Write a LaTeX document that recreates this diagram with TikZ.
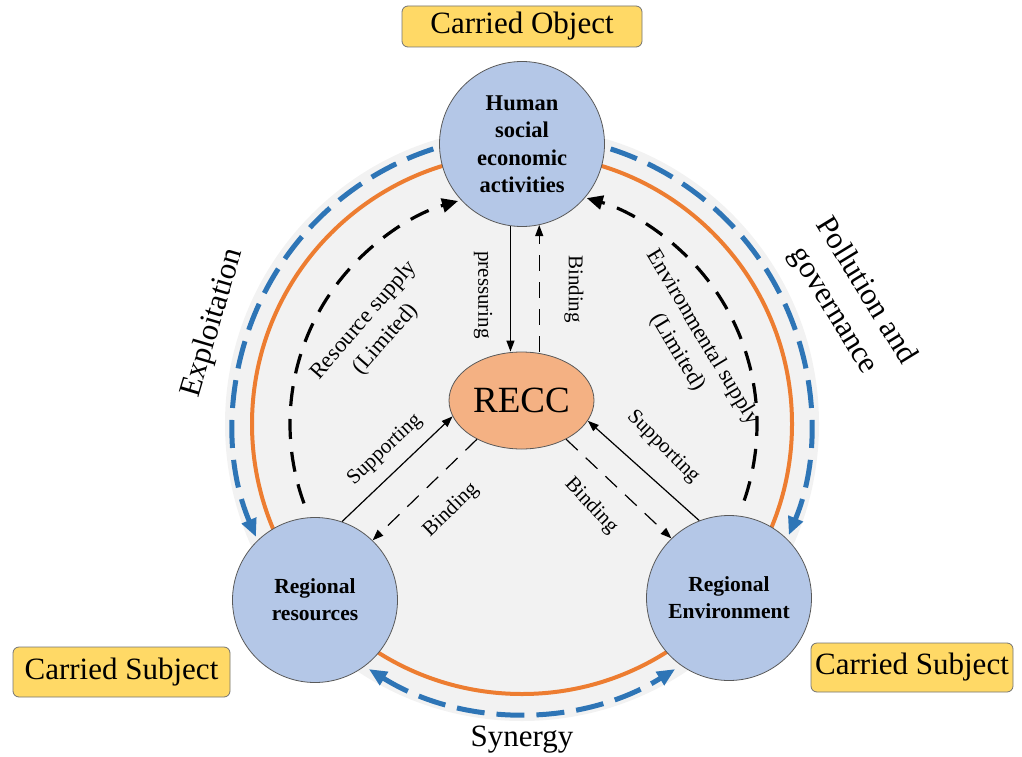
\documentclass[tikz,border=0pt]{standalone}
\usepackage{fontspec}
\setmainfont{Liberation Serif}
\usetikzlibrary{arrows.meta,shapes.geometric,calc}
\definecolor{grayfill}{HTML}{F2F2F2}
\definecolor{orng}{HTML}{ED7D31}
\definecolor{blu}{HTML}{2E75B6}
\definecolor{nodeblue}{HTML}{B4C7E7}
\definecolor{reccfill}{HTML}{F4B183}
\definecolor{boxy}{HTML}{FFD966}
\begin{document}
\begin{tikzpicture}[x=1pt,y=-1pt,
  hnode/.style={circle,draw=black!65,line width=0.8pt,fill=nodeblue,inner sep=0pt,minimum size=165pt,align=center,font=\bfseries\fontsize{22.5}{27.5}\selectfont},
  rnode/.style={hnode,font=\bfseries\fontsize{21.5}{27}\selectfont},
  reccnode/.style={ellipse,draw=black!65,line width=0.8pt,fill=reccfill,inner sep=0pt,minimum width=145pt,minimum height=97pt,font=\fontsize{37}{40}\selectfont},
  ybox/.style={rounded corners=6pt,draw=black!55,line width=0.8pt,fill=boxy,inner sep=0pt,font=\fontsize{31}{36}\selectfont},
  biglabel/.style={font=\fontsize{31}{38}\selectfont,align=center,inner sep=0pt},
  smalllabel/.style={font=\fontsize{21}{25}\selectfont,inner sep=0pt},
  midlabel/.style={font=\fontsize{22.5}{29}\selectfont,align=center,inner sep=0pt},
  bluearc/.style={blu,line width=5pt,dash pattern=on 28pt off 12pt},
  bluetip/.style={-{Triangle[length=18pt,width=15pt]}},
  bigdash/.style={black,line width=3.2pt,dash pattern=on 20pt off 13pt,-{Triangle[length=16pt,width=14pt]}},
  thinarrow/.style={black,line width=1.2pt,-{Triangle[length=11pt,width=8pt]}},
  thindash/.style={thinarrow,dash pattern=on 16pt off 11pt}
]
\useasboundingbox (0,0) rectangle (1022,757);
\coordinate (O) at (522,424);
% background disk and rings
\fill[grayfill] (O) circle (297);
\draw[orng,line width=4pt] (O) circle (270);
% blue outer arcs
\coordinate (bl0) at ($(O)+(-92:289)$);
\coordinate (br0) at ($(O)+(-88:289)$);
\coordinate (bb0) at ($(O)+(-238:289)$);
\draw[bluearc,bluetip] (bl0) arc[start angle=-92,end angle=-203,radius=289];
\draw[bluearc,bluetip] (br0) arc[start angle=-88,end angle=22.6,radius=289];
\draw[bluearc,{Triangle[length=18pt,width=15pt]}-{Triangle[length=18pt,width=15pt]}] (bb0) arc[start angle=-238,end angle=-302,radius=289];
% big black dashed arcs
\coordinate (ls) at ($(O)+(-200:232)$);
\coordinate (rs) at ($(O)+(19:235)$);
\draw[bigdash] (ls) arc[start angle=-200,end angle=-106,radius=232];
\draw[bigdash] (rs) arc[start angle=19,end angle=-74,radius=235];
% nodes
\node[hnode] (hum) at (522,144) {Human\\social\\economic\\activities};
\node[rnode] (res) at (315,600) {Regional\\resources};
\node[rnode] (env) at (729,598) {Regional\\Environment};
\node[reccnode] (recc) at (521.5,400.5) {RECC};
% straight arrows
\draw[thinarrow] (hum.-98) -- (hum.-98 |- recc.north);
\draw[thindash] (hum.-78 |- recc.north) -- (hum.-78);
\draw[thinarrow] (res.71) -- (recc.193);
\draw[thindash] (recc.221) -- (res.46);
\draw[thindash] (recc.-41) -- (env.134);
\draw[thinarrow] (env.111) -- (recc.-17);
% small labels
\node[smalllabel,rotate=-90] (lpress) at (483,295) {pressuring};
\node[smalllabel,rotate=-90] (lbind1) at (574,289) {Binding};
\node[smalllabel,rotate=43] (lsup1) at (385,450) {Supporting};
\node[smalllabel,rotate=44] (lbind2) at (451,510) {Binding};
\node[smalllabel,rotate=-47] (lbind3) at (591,506) {Binding};
\node[smalllabel,rotate=-45] (lsup2) at (663,447) {Supporting};
\node[midlabel,rotate=49] (lres) at (375,330) {Resource supply\\(Limited)};
\node[midlabel,rotate=-59] (lenv) at (690,345) {Environmental supply\\(Limited)};
% big labels
\node[biglabel,rotate=73.5] (lexp) at (213,323) {Exploitation};
\node[biglabel,rotate=-58.5] (lpol) at (849,301) {Pollution and\\governance};
\node[biglabel] (lsyn) at (522,740) {Synergy};
% boxes
\node[ybox,minimum width=240pt,minimum height=41pt] (cobj) at (522,26.5) {Carried Object};
\node[ybox,minimum width=217pt,minimum height=50pt] (csub1) at (121.5,672) {Carried Subject};
\node[ybox,minimum width=202pt,minimum height=49pt] (csub2) at (912,667.5) {Carried Subject};
\end{tikzpicture}
\end{document}
